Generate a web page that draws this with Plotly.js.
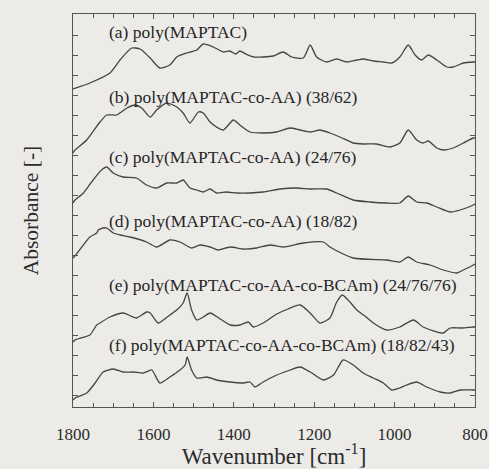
<!DOCTYPE html>
<html>
<head>
<meta charset="utf-8">
<script src="https://cdn.plot.ly/plotly-3.0.1.min.js"></script>
<style>html,body{margin:0;padding:0;background:#ecebe8;}</style>
</head>
<body>
<div id="chart" style="width:489px;height:469px;"></div>
<script>
// Wavenumber (cm-1) and absorbance (arbitrary, stacked)
const wnA = [1800,1758,1708,1683,1654,1633,1608,1584,1559,1542,1517,1492,1476,1451,1426,1410,1395,1385,1370,1351,1327,1302,1277,1256,1227,1210,1194,1169,1144,1119,1094,1078,1053,1028,1007,987,966,949,933,916,895,870,854,829,804,800];
const absA = [3.18,3.24,3.34,3.47,3.59,3.58,3.49,3.39,3.42,3.50,3.54,3.57,3.63,3.60,3.55,3.56,3.53,3.56,3.53,3.50,3.50,3.51,3.55,3.50,3.49,3.62,3.50,3.45,3.48,3.45,3.47,3.48,3.46,3.45,3.44,3.50,3.62,3.52,3.47,3.52,3.47,3.40,3.40,3.44,3.45,3.45];

const wnB = [1800,1795,1766,1733,1716,1691,1666,1646,1629,1608,1592,1567,1542,1526,1509,1488,1476,1459,1443,1426,1401,1385,1360,1327,1293,1260,1235,1210,1186,1161,1136,1103,1078,1045,1011,987,966,945,929,916,895,879,854,829,804,800];
const absB = [2.54,2.57,2.67,2.85,2.92,2.92,2.99,3.02,2.99,2.90,2.97,3.04,3.00,2.94,2.84,2.95,2.94,2.85,2.80,2.77,2.87,2.82,2.75,2.74,2.75,2.79,2.77,2.75,2.77,2.74,2.70,2.64,2.63,2.63,2.60,2.64,2.77,2.67,2.64,2.66,2.59,2.57,2.59,2.64,2.69,2.69];

const wnC = [1800,1795,1774,1750,1729,1716,1700,1675,1642,1617,1592,1567,1542,1526,1509,1492,1476,1459,1443,1418,1393,1360,1327,1285,1244,1210,1169,1144,1103,1061,1020,987,966,945,920,895,862,837,804,800];
const absC = [2.04,2.07,2.14,2.27,2.37,2.40,2.34,2.30,2.29,2.22,2.19,2.24,2.24,2.27,2.19,2.17,2.15,2.18,2.14,2.15,2.14,2.14,2.15,2.18,2.19,2.18,2.18,2.14,2.07,2.05,2.04,2.04,2.11,2.05,2.04,2.00,1.95,1.97,2.02,2.03];

const wnD = [1800,1795,1758,1741,1737,1725,1716,1700,1683,1658,1617,1592,1559,1534,1505,1484,1459,1439,1409,1376,1343,1310,1278,1227,1177,1161,1103,1020,987,966,945,912,879,846,829,804,800];
const absD = [1.49,1.51,1.70,1.74,1.77,1.79,1.79,1.74,1.72,1.70,1.65,1.60,1.67,1.65,1.59,1.62,1.60,1.57,1.60,1.58,1.59,1.62,1.60,1.64,1.65,1.60,1.49,1.47,1.45,1.50,1.45,1.42,1.37,1.34,1.37,1.42,1.43];

const wnE = [1800,1795,1758,1741,1733,1708,1675,1642,1617,1608,1588,1559,1542,1526,1516,1505,1492,1476,1459,1434,1409,1385,1364,1351,1327,1293,1265,1235,1210,1186,1161,1144,1130,1111,1094,1074,1053,1020,987,953,929,879,862,833,804,800];
const absE = [0.65,0.67,0.72,0.82,0.84,0.90,0.94,0.89,0.95,0.94,0.84,0.92,0.97,1.04,1.14,0.97,0.87,0.90,0.94,0.88,0.82,0.82,0.85,0.80,0.84,0.93,0.98,1.02,0.94,0.84,0.89,1.05,1.12,1.05,0.97,0.91,0.84,0.77,0.80,0.87,0.80,0.74,0.79,0.79,0.80,0.80];

const wnF = [1800,1795,1766,1745,1725,1700,1675,1650,1625,1604,1584,1559,1534,1521,1516,1505,1492,1467,1443,1409,1376,1360,1347,1327,1293,1260,1235,1210,1177,1152,1128,1103,1078,1053,1028,1007,987,970,945,920,887,862,837,804,800];
const absF = [0.07,0.09,0.14,0.24,0.35,0.38,0.35,0.35,0.34,0.37,0.24,0.30,0.37,0.42,0.50,0.37,0.29,0.30,0.27,0.25,0.24,0.25,0.20,0.25,0.32,0.37,0.40,0.35,0.27,0.32,0.47,0.42,0.34,0.29,0.24,0.17,0.19,0.22,0.25,0.20,0.15,0.14,0.17,0.17,0.17];

const seriesLabels = [
  "(a) poly(MAPTAC)",
  "(b) poly(MAPTAC-co-AA) (38/62)",
  "(c) poly(MAPTAC-co-AA) (24/76)",
  "(d) poly(MAPTAC-co-AA) (18/82)",
  "(e) poly(MAPTAC-co-AA-co-BCAm) (24/76/76)",
  "(f) poly(MAPTAC-co-AA-co-BCAm) (18/82/43)"
];

const xs = [wnA, wnB, wnC, wnD, wnE, wnF];
const ys = [absA, absB, absC, absD, absE, absF];
const labelY = [3.75, 3.10, 2.50, 1.86, 1.22, 0.62];

const traces = xs.map((x, i) => ({
  x: x, y: ys[i], type: 'scatter', mode: 'lines',
  line: {color: '#444444', width: 1.3, shape: 'spline', smoothing: 0.6},
  name: seriesLabels[i], hoverinfo: 'skip'
}));

const annotations = seriesLabels.map((t, i) => ({
  text: t, x: 1715, y: labelY[i], xref: 'x', yref: 'y',
  xanchor: 'left', yanchor: 'middle', showarrow: false,
  font: {family: 'Liberation Serif', size: 17.5, color: '#262626'}
}));

const layout = {
  width: 489, height: 469,
  margin: {l: 73, r: 14, t: 14, b: 62},
  paper_bgcolor: '#ecebe8', plot_bgcolor: '#ecebe8',
  showlegend: false,
  font: {family: 'Liberation Serif', color: '#2b2b2b'},
  xaxis: {
    range: [1800, 800], tickmode: 'linear', tick0: 800, dtick: 200,
    ticks: 'inside', ticklen: 5, tickwidth: 1, tickcolor: '#555',
    minor: {dtick: 50, tick0: 800, ticks: 'inside', ticklen: 4, tickcolor: '#555'},
    showline: true, linecolor: '#555', linewidth: 1, mirror: 'allticks',
    showgrid: false, zeroline: false,
    tickfont: {family: 'Liberation Serif', size: 17, color: '#2b2b2b'},
    ticklabelstandoff: 12,
    title: {text: 'Wavenumber [cm<sup>-1</sup>]', font: {family: 'Liberation Serif', size: 23, color: '#2b2b2b'}, standoff: 6}
  },
  yaxis: {
    range: [0, 3.93], tickmode: 'linear', tick0: 0.12, dtick: 0.2,
    ticks: 'inside', ticklen: 5, tickwidth: 1, tickcolor: '#555',
    showticklabels: false,
    showline: true, linecolor: '#555', linewidth: 1, mirror: 'allticks',
    showgrid: false, zeroline: false,
    title: {text: 'Absorbance [-]', font: {family: 'Liberation Serif', size: 21.5, color: '#2b2b2b'}, standoff: 27}
  },
  annotations: annotations
};

Plotly.newPlot('chart', traces, layout, {staticPlot: true, displayModeBar: false});
</script>
</body>
</html>
